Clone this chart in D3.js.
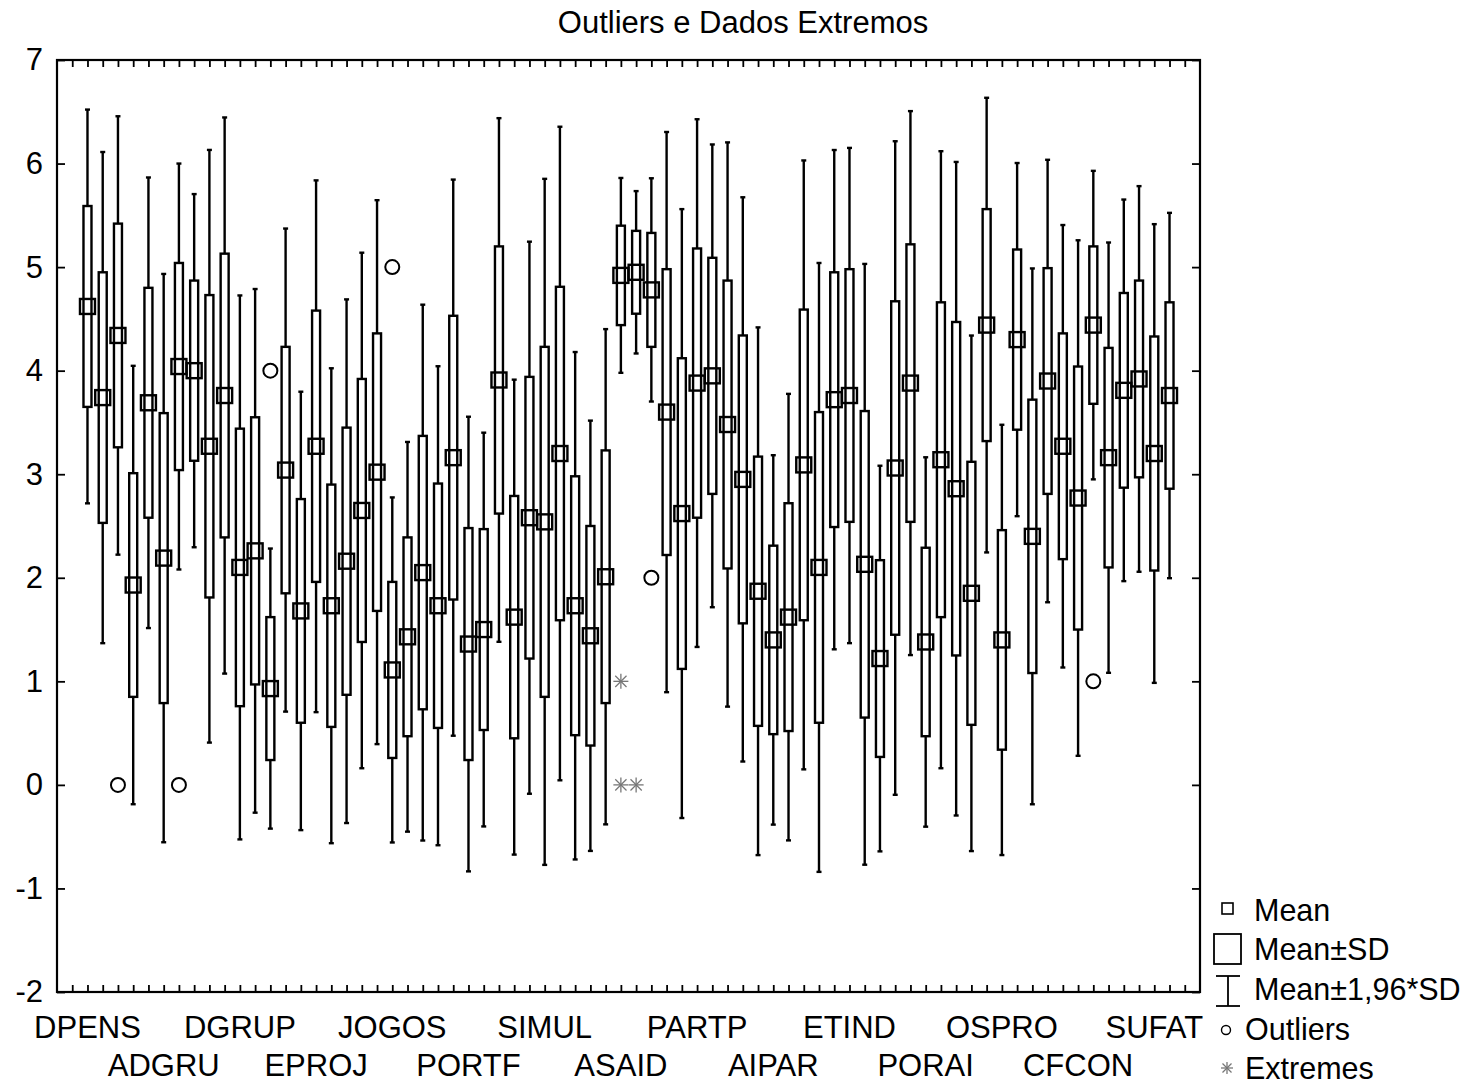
<!DOCTYPE html>
<html>
<head>
<meta charset="utf-8">
<script src="https://cdn.jsdelivr.net/npm/d3@7"></script>
<style>
  body { margin: 0; background: #fff; }
  text { font-family: "Liberation Sans", Arial, sans-serif; fill: #000; }
</style>
</head>
<body>
<svg id="chart" width="1468" height="1089"></svg>
<script>
// means and standard deviations, one per variable (72 of them)
const means = [4.62, 3.74, 4.34, 1.93, 3.69, 2.19, 4.04, 4.00, 3.27, 3.76,
               2.10, 2.26, 0.93, 3.04, 1.68, 3.27, 1.73, 2.16, 2.65, 3.02,
               1.11, 1.43, 2.05, 1.73, 3.16, 1.36, 1.50, 3.91, 1.62, 2.58,
               2.54, 3.20, 1.73, 1.44, 2.01, 4.92, 4.95, 4.78, 3.60, 2.62,
               3.88, 3.95, 3.48, 2.95, 1.87, 1.40, 1.62, 3.09, 2.10, 3.72,
               3.76, 2.13, 1.22, 3.06, 3.88, 1.38, 3.14, 2.86, 1.85, 4.44,
               1.40, 4.30, 2.40, 3.90, 3.27, 2.77, 4.44, 3.16, 3.81, 3.92,
               3.20, 3.76];
const sds = [0.97, 1.21, 1.08, 1.08, 1.11, 1.40, 1.00, 0.87, 1.46, 1.37,
             1.34, 1.29, 0.69, 1.19, 1.08, 1.31, 1.17, 1.29, 1.27, 1.34,
             0.85, 0.96, 1.32, 1.18, 1.37, 1.12, 0.97, 1.29, 1.17, 1.36,
             1.69, 1.61, 1.25, 1.06, 1.22, 0.48, 0.40, 0.55, 1.38, 1.50,
             1.30, 1.14, 1.39, 1.39, 1.30, 0.91, 1.10, 1.50, 1.50, 1.23,
             1.22, 1.48, 0.95, 1.61, 1.34, 0.91, 1.52, 1.61, 1.27, 1.12,
             1.06, 0.87, 1.32, 1.09, 1.09, 1.27, 0.76, 1.06, 0.94, 0.95,
             1.13, 0.90];
// only every 5th variable gets a name on the axis
const labelNames = ["DPENS", "ADGRU", "DGRUP", "EPROJ", "JOGOS", "PORTF", "SIMUL", "ASAID",
                    "PARTP", "AIPAR", "ETIND", "PORAI", "OSPRO", "CFCON", "SUFAT"];
const labelStep = 5;
// outliers and extremes: variable index + value
const outlierIdx = [2, 6, 12, 20, 37, 66];
const outlierVal = [0, 0, 4, 5, 2, 1];
const extremeIdx = [35, 35, 36];
const extremeVal = [1, 0, 0];
const yTicks = [-2, -1, 0, 1, 2, 3, 4, 5, 6, 7];

const svg = d3.select("#chart");
svg.append("rect").attr("width", 1468).attr("height", 1089).attr("fill", "#fff");

const pLeft = 57, pRight = 1200, pTop = 60, pBottom = 992;
const x = d3.scaleLinear().domain([-2, 73]).range([pLeft, pRight]);
const y = d3.scaleLinear().domain([-2, 7]).range([pBottom, pTop]);
const k = 1.96;
const fs = "31px";

// title
svg.append("text").attr("x", 743).attr("y", 33).attr("text-anchor", "middle")
  .style("font-size", fs).text("Outliers e Dados Extremos");

// ticks (inward) on all four sides
const xTickVals = d3.range(-1, 73);
svg.append("g").attr("transform", `translate(0,${pBottom})`)
  .call(d3.axisBottom(x).tickValues(xTickVals).tickSizeInner(-7).tickSizeOuter(0).tickFormat(""))
  .call(a => a.select(".domain").remove());
svg.append("g").attr("transform", `translate(0,${pTop})`)
  .call(d3.axisTop(x).tickValues(xTickVals).tickSizeInner(-7).tickSizeOuter(0).tickFormat(""))
  .call(a => a.select(".domain").remove());
svg.append("g").attr("transform", `translate(${pLeft},0)`)
  .call(d3.axisLeft(y).tickValues(yTicks).tickSizeInner(-8).tickSizeOuter(0).tickPadding(14)
    .tickFormat(d => String(d)))
  .call(a => a.select(".domain").remove())
  .call(a => a.selectAll("text").style("font-size", fs).style("font-family", "Liberation Sans, Arial"));
svg.append("g").attr("transform", `translate(${pRight},0)`)
  .call(d3.axisRight(y).tickValues(yTicks).tickSizeInner(-8).tickSizeOuter(0).tickFormat(""))
  .call(a => a.select(".domain").remove());
svg.selectAll(".tick line").attr("stroke", "#000").attr("stroke-width", 1.8);

// category names in two staggered rows
svg.append("g").selectAll("text").data(labelNames).join("text")
  .attr("x", (d, i) => x(i * labelStep))
  .attr("y", (d, i) => i % 2 === 0 ? 1038 : 1076)
  .attr("text-anchor", "middle")
  .style("font-size", fs)
  .text(d => d);

// boxes
const boxes = svg.append("g");
const sw = 2.4;
means.forEach((m, i) => {
  const cx = x(i), s = sds[i];
  const hi = m + k * s, lo = m - k * s;
  boxes.append("line").attr("x1", cx).attr("x2", cx).attr("y1", y(hi)).attr("y2", y(lo))
    .attr("stroke", "#000").attr("stroke-width", sw);
  [hi, lo].forEach(v => boxes.append("line").attr("x1", cx - 2.5).attr("x2", cx + 2.5)
    .attr("y1", y(v)).attr("y2", y(v)).attr("stroke", "#000").attr("stroke-width", sw));
  boxes.append("rect").attr("x", cx - 4).attr("width", 8)
    .attr("y", y(m + s)).attr("height", y(m - s) - y(m + s))
    .attr("fill", "#fff").attr("stroke", "#000").attr("stroke-width", sw);
  boxes.append("rect").attr("x", cx - 7.5).attr("y", y(m) - 7.5).attr("width", 15).attr("height", 15)
    .attr("fill", "none").attr("stroke", "#000").attr("stroke-width", sw);
});

// outliers
svg.append("g").selectAll("circle").data(outlierIdx).join("circle")
  .attr("cx", d => x(d)).attr("cy", (d, i) => y(outlierVal[i])).attr("r", 7)
  .attr("fill", "none").attr("stroke", "#000").attr("stroke-width", 2);

// extremes (asterisks)
function star(sel, cx, cy, r) {
  const a = sel.append("g").attr("transform", `translate(${cx},${cy})`)
    .attr("stroke", "#777").attr("stroke-width", 1.3);
  a.append("line").attr("x1", -r).attr("x2", r).attr("y1", 0).attr("y2", 0);
  a.append("line").attr("x1", 0).attr("x2", 0).attr("y1", -r).attr("y2", r);
  const d = r * 0.75;
  a.append("line").attr("x1", -d).attr("x2", d).attr("y1", -d).attr("y2", d);
  a.append("line").attr("x1", -d).attr("x2", d).attr("y1", d).attr("y2", -d);
}
extremeIdx.forEach((d, i) => star(svg, x(d), y(extremeVal[i]), 7.5));

// frame
svg.append("rect").attr("x", pLeft).attr("y", pTop).attr("width", pRight - pLeft).attr("height", pBottom - pTop)
  .attr("fill", "none").attr("stroke", "#000").attr("stroke-width", 2.2);

// legend
const lg = svg.append("g");
const lfs = "30.5px";
lg.append("rect").attr("x", 1222).attr("y", 903).attr("width", 11).attr("height", 11)
  .attr("fill", "none").attr("stroke", "#000").attr("stroke-width", 1.6);
lg.append("text").attr("x", 1254).attr("y", 921).style("font-size", lfs).text("Mean");
lg.append("rect").attr("x", 1214).attr("y", 934).attr("width", 27).attr("height", 30)
  .attr("fill", "none").attr("stroke", "#000").attr("stroke-width", 1.8);
lg.append("text").attr("x", 1254).attr("y", 960).style("font-size", lfs).text("Mean±SD");
lg.append("line").attr("x1", 1228).attr("x2", 1228).attr("y1", 976).attr("y2", 1006).attr("stroke", "#000").attr("stroke-width", 1.8);
lg.append("line").attr("x1", 1216).attr("x2", 1240).attr("y1", 976).attr("y2", 976).attr("stroke", "#000").attr("stroke-width", 1.8);
lg.append("line").attr("x1", 1216).attr("x2", 1240).attr("y1", 1006).attr("y2", 1006).attr("stroke", "#000").attr("stroke-width", 1.8);
lg.append("text").attr("x", 1254).attr("y", 1000).style("font-size", lfs).text("Mean±1,96*SD");
lg.append("circle").attr("cx", 1226).attr("cy", 1030).attr("r", 4.5)
  .attr("fill", "none").attr("stroke", "#000").attr("stroke-width", 1.4);
lg.append("text").attr("x", 1245).attr("y", 1040).style("font-size", lfs).text("Outliers");
star(lg, 1227, 1068, 6);
lg.append("text").attr("x", 1245).attr("y", 1079).style("font-size", lfs).text("Extremes");
</script>
</body>
</html>
